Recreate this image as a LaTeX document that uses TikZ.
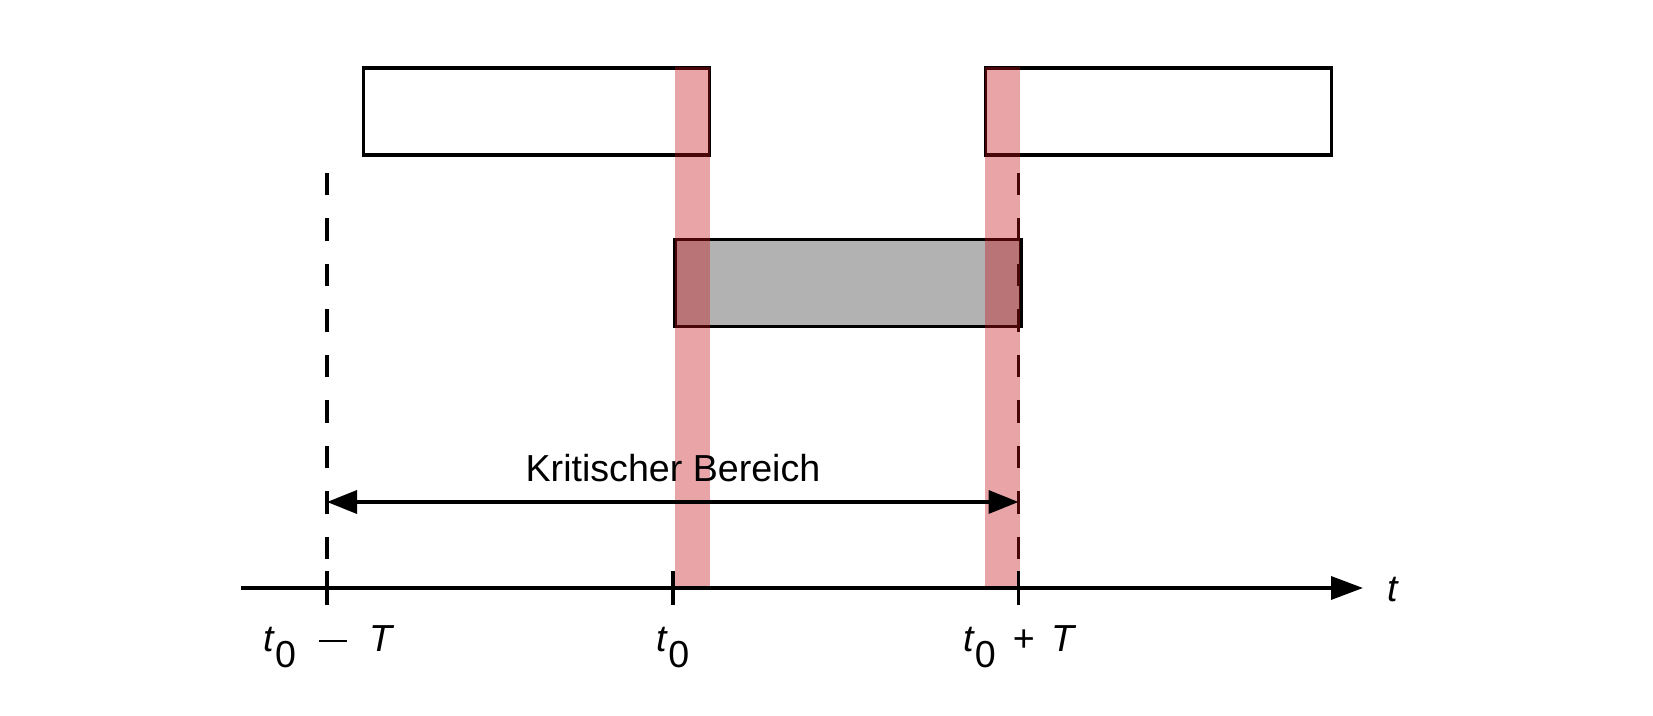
\documentclass[tikz,border=0pt]{standalone}
\usepackage{fontspec}
\setmainfont{Liberation Sans}
\usepackage{tikz}
\usetikzlibrary{arrows.meta,positioning}
\definecolor{bandred}{RGB}{194,16,24}
\definecolor{slotgray}{RGB}{178,178,178}
\newcommand{\tsub}{\textit{t}\raisebox{-0.4em}{0}}

\begin{document}
\begin{tikzpicture}[line width=1pt,font=\fontsize{10.7}{13}\selectfont,
  slot/.style={draw,minimum width=3.46cm,minimum height=0.87cm,inner sep=0pt,anchor=south west},
  band/.style={fill=bandred,fill opacity=0.38,minimum width=0.35cm,minimum height=5.19cm,inner sep=0pt,anchor=south west},
  guide/.style={dash pattern=on 2.25mm off 2.3mm},
  lbl/.style={anchor=base,inner sep=0pt}]
  \useasboundingbox (0,0) rectangle (16.53,7.16);
  \coordinate (start) at (2.41,1.28);
  \coordinate (end) at (13.63,1.28);
  \coordinate (tm) at (3.27,1.28);
  \coordinate (t0) at (6.73,1.28);
  \coordinate (tp) at (10.185,1.28);
  \node[slot] (slotA) at (3.615,5.59) {};
  \node[slot] (slotB) at (9.835,5.59) {};
  \node[slot,fill=slotgray] (slotC) at (6.73,3.875) {};
  \coordinate (tmtop) at (3.27,5.43);
  \coordinate (tptop) at (10.185,5.43);
  \coordinate (tmbot) at (3.27,1.11);
  \coordinate (tpbot) at (10.185,1.11);
  \draw[guide] (tmtop) -- (tmbot);
  \draw[guide] (tptop) -- (tpbot);
  \node[band] (bandA) at (t0) {};
  \node[band] (bandB) at (9.835,1.28) {};
  \draw[-{Triangle[length=3.2mm,width=2.3mm]}] (start) -- (end);
  \foreach \p in {tm,t0,tp}
    \draw ([yshift=1.7mm]\p) -- ([yshift=-1.7mm]\p);
  \coordinate (kl) at (3.27,2.14);
  \coordinate (kr) at (10.185,2.14);
  \draw[{Triangle[length=3mm,width=2.3mm]}-{Triangle[length=3mm,width=2.3mm]}] (kl) -- (kr);
  \node[lbl] (krit) at (6.73,2.34) {Kritischer Bereich};
  \node[lbl] (lblm) at (3.29,0.64) {\tsub\hspace{0.6em}\raisebox{0.27em}{\rule{0.75em}{0.06em}}\hspace{0.6em}\textit{T}};
  \node[lbl] (lbl0) at (6.73,0.64) {\tsub};
  \node[lbl] (lblp) at (10.2,0.64) {\tsub\hspace{0.45em}+\hspace{0.45em}\textit{T}};
  \node[lbl,anchor=base west] (tlbl) at (13.86,1.14) {\textit{t}};
\end{tikzpicture}
\end{document}
